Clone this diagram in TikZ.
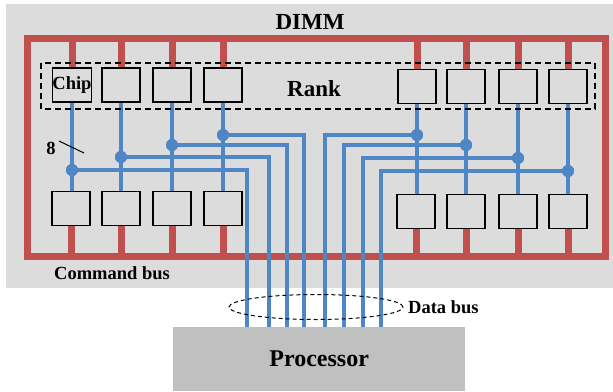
\documentclass[tikz,border=0pt]{standalone}
\usepackage{fontspec}
\setmainfont{Liberation Serif}
\usetikzlibrary{shapes.geometric}
\definecolor{bggray}{HTML}{DCDCDC}
\definecolor{procgray}{HTML}{C0C0C0}
\definecolor{cmdred}{HTML}{C0504D}
\definecolor{datblue}{HTML}{4F86C6}
\begin{document}
\begin{tikzpicture}[x=1pt,y=-1pt,
  chipbox/.style={draw=black,line width=1.5pt,fill=bggray,minimum width=38pt,minimum height=34pt,inner sep=0pt},
  cmd/.style={draw=cmdred,line width=7pt},
  dat/.style={draw=datblue,line width=3.6pt},
  busdot/.style={fill=datblue,circle,inner sep=0pt,minimum size=12pt},
  lbl/.style={font=\bfseries\fontsize{18.5}{20}\selectfont,inner sep=0pt},
  biglbl/.style={font=\bfseries\fontsize{23}{26}\selectfont,inner sep=0pt}
]
\useasboundingbox (0,0) rectangle (613,391);
% backgrounds
\fill[bggray] (6,4) rectangle (613,288);
\node[fill=procgray,minimum width=292pt,minimum height=64pt,inner sep=0pt,anchor=north west,
      font=\bfseries\fontsize{24}{28}\selectfont] (proc) at (173,327) {Processor};
% chips
\node[chipbox,font=\bfseries\fontsize{18.5}{20}\selectfont] (t1) at (72,85) {Chip};
\node[chipbox] (t2) at (121,85) {};
\node[chipbox] (t3) at (172,85) {};
\node[chipbox] (t4) at (223,85) {};
\node[chipbox] (t5) at (417,86.5) {};
\node[chipbox] (t6) at (466,86.5) {};
\node[chipbox] (t7) at (518,86.5) {};
\node[chipbox] (t8) at (568,86.5) {};
\node[chipbox] (b1) at (71,208.5) {};
\node[chipbox] (b2) at (121,208.5) {};
\node[chipbox] (b3) at (172,208.5) {};
\node[chipbox] (b4) at (223,208.5) {};
\node[chipbox] (b5) at (416,211.5) {};
\node[chipbox] (b6) at (466,211.5) {};
\node[chipbox] (b7) at (518,211.5) {};
\node[chipbox] (b8) at (568,211.5) {};
% command bus
\coordinate (rtl) at (27,38);
\coordinate (rbr) at (605,256);
\draw[cmd] (rtl) rectangle (rbr);
\foreach \i in {1,...,8}{
  \draw[cmd] (t\i.north) -- (t\i.north |- rtl);
  \draw[cmd] (b\i.south) -- (b\i.south |- rbr);
}
% data bus
\node[busdot] (d1) at (72,170) {};
\node[busdot] (d2) at (121,157) {};
\node[busdot] (d3) at (172,145) {};
\node[busdot] (d4) at (223,135) {};
\node[busdot] (d5) at (417,135) {};
\node[busdot] (d6) at (466,145) {};
\node[busdot] (d7) at (518,158) {};
\node[busdot] (d8) at (568,171) {};
\coordinate (e1) at (247,327);
\coordinate (e2) at (269,327);
\coordinate (e3) at (287,327);
\coordinate (e4) at (304,327);
\coordinate (e5) at (325,327);
\coordinate (e6) at (344,327);
\coordinate (e7) at (363,327);
\coordinate (e8) at (381,327);
\foreach \i in {1,...,8}{
  \draw[dat] (t\i.south) -- (t\i.south |- b\i.north);
  \draw[dat] (d\i.center) -| (e\i);
}
\foreach \i in {1,...,8}{ \fill[datblue] (d\i) circle[radius=6pt]; }
% rank box
\draw[dashed,line width=1.8pt,dash pattern=on 6pt off 4pt] (41,63) rectangle (595,109);
% labels
\node[biglbl] (dimm) at (310,22) {DIMM};
\node[biglbl] (rank) at (314,89) {Rank};
\node[lbl,anchor=west] (cmdlbl) at (54,273) {Command bus};
\node[lbl] (eight) at (51,148) {8};
\coordinate (s1) at (59,141);
\coordinate (s2) at (84,153);
\draw[line width=1pt] (s1) -- (s2);
\node[draw,dashed,line width=1pt,dash pattern=on 4pt off 3pt,ellipse,minimum width=174pt,minimum height=25pt,inner sep=0pt] (bus) at (316,307) {};
\node[lbl,anchor=west] (datlbl) at (408,307) {Data bus};
\end{tikzpicture}
\end{document}
